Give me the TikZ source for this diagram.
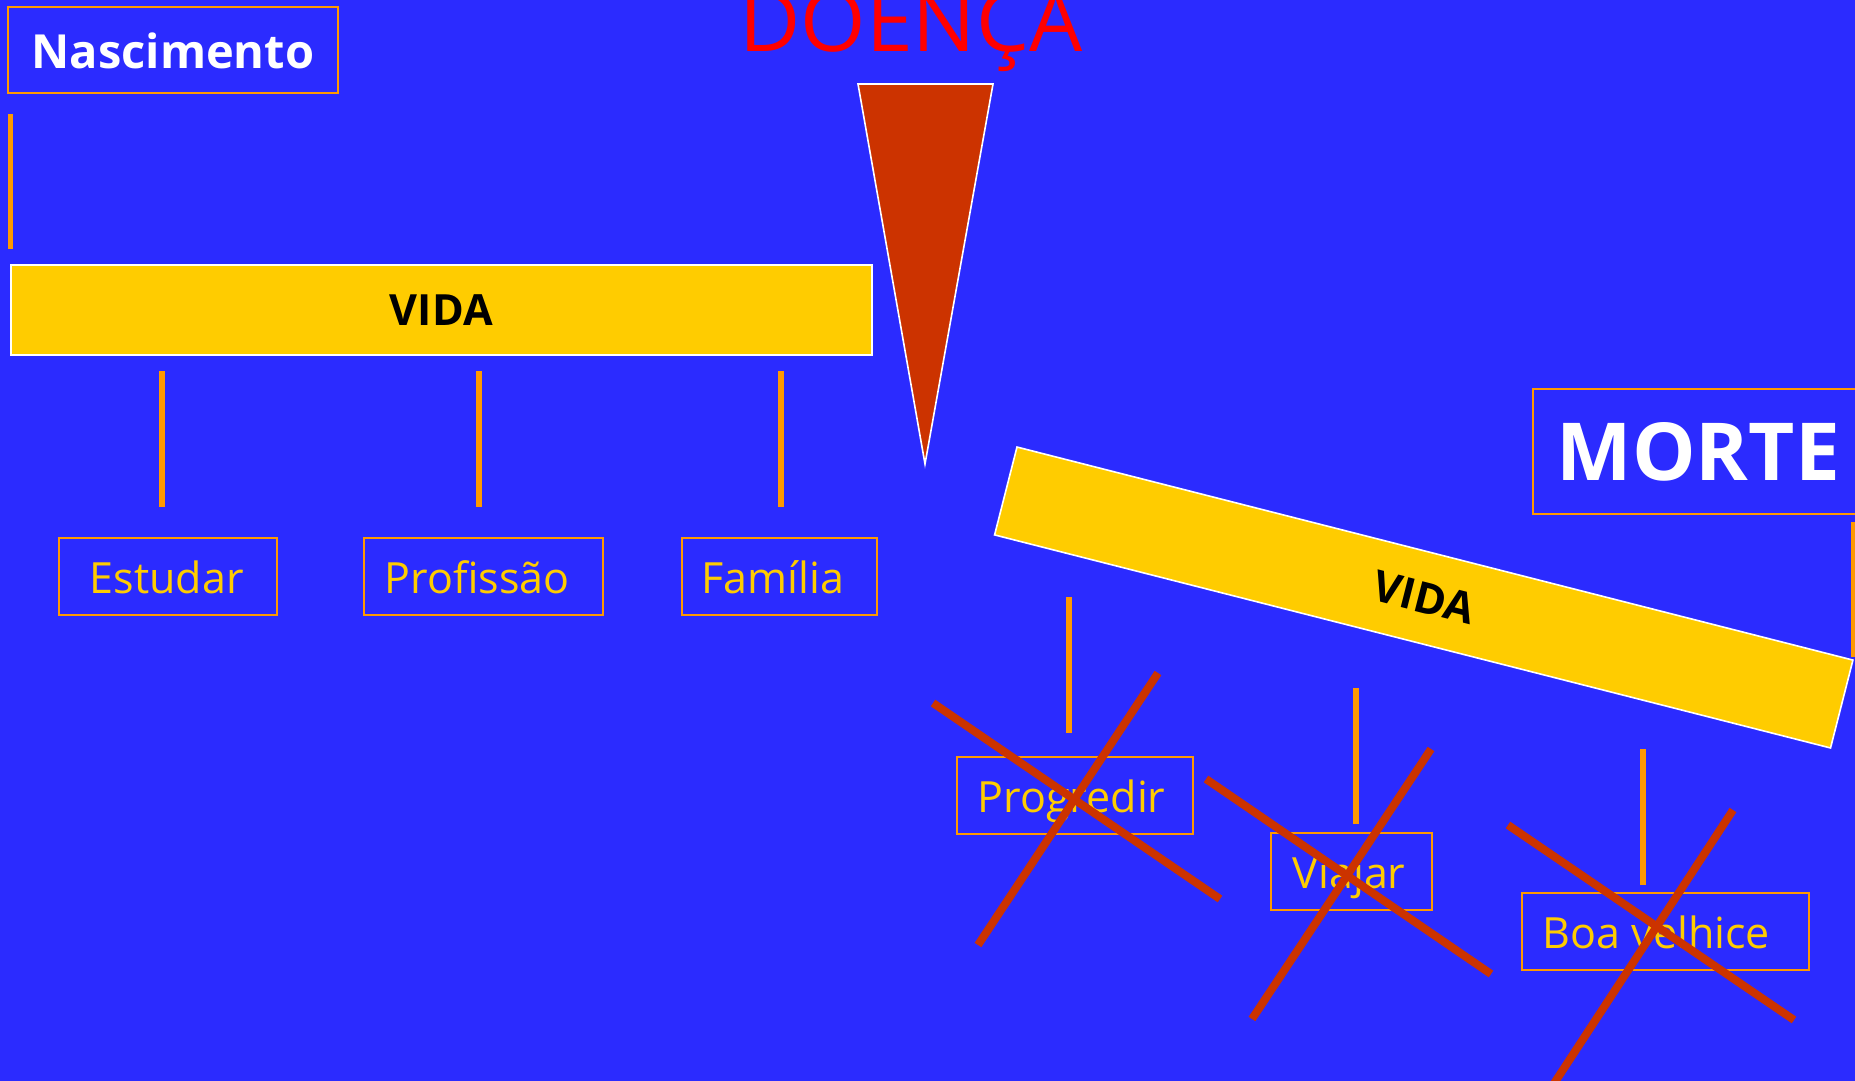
\documentclass[tikz,border=0pt]{standalone}
\usepackage{fontspec}
\setmainfont{Open Sans}
\definecolor{bgblue}{RGB}{43,43,255}
\definecolor{barYellow}{RGB}{255,204,0}
\definecolor{lineOrange}{RGB}{255,153,0}
\definecolor{rust}{RGB}{204,51,0}
\definecolor{alarmRed}{RGB}{255,0,0}
% left-aligned label of fixed width inside a box
\newcommand\lefttext[2]{\makebox[#1][l]{#2}}
\begin{document}
\begin{tikzpicture}[x=1pt,y=-1pt,
  lifebar/.style={draw=white, line width=1.6pt, fill=barYellow, text=black,
    font=\fontsize{43}{43}\selectfont\bfseries, inner sep=0pt},
  itembox/.style={draw=lineOrange, line width=1.5pt, text=barYellow,
    font=\fontsize{43}{43}\selectfont, anchor=north west, minimum height=77pt,
    inner ysep=0pt, text height=40pt, text depth=5pt},
  titlebox/.style={draw=lineOrange, line width=1.5pt, text=white, inner ysep=0pt},
  stem/.style={draw=lineOrange, line width=5.5pt},
  strike/.style={draw=rust, line width=8pt}
]
\useasboundingbox (0,0) rectangle (1855,1081);
\clip (0,0) rectangle (1855,1081);
\fill[bgblue] (0,0) rectangle (1855,1081);

% --- first half of life ---
\node[titlebox, font=\fontsize{47}{47}\selectfont\bfseries, minimum width=330pt,
  minimum height=86pt, text height=40pt, text depth=3pt] (birth) at (173,50) {Nascimento};
\coordinate (b1) at (10.5,114);
\coordinate (b2) at (10.5,249);
\draw[stem] (b1) -- (b2);

\node[lifebar, minimum width=861pt, minimum height=90pt] (life1) at (441.3,310) {VIDA};

\node[itembox, inner xsep=31pt] (study) at (58,537) {\lefttext{156pt}{Estudar}};
\node[itembox, inner xsep=21pt] (job) at (363,537) {\lefttext{197pt}{Profissão}};
\node[itembox, inner xsep=20pt] (family) at (681,537) {\lefttext{155pt}{Família}};

\coordinate (s1a) at (162,371);  \coordinate (s1b) at (162,507);
\coordinate (s2a) at (479,371);  \coordinate (s2b) at (479,507);
\coordinate (s3a) at (781,371);  \coordinate (s3b) at (781,507);
\draw[stem] (s1a) -- (s1b);
\draw[stem] (s2a) -- (s2b);
\draw[stem] (s3a) -- (s3b);

% --- illness ---
\node[text=alarmRed, font=\fontsize{84}{84}\selectfont, anchor=base, inner sep=0pt]
  (illness) at (911,52) {DOENÇA};
\draw[draw=white, line width=1.6pt, fill=rust] (858,84) -- (993,84) -- (925,464) -- cycle;

% --- second half of life ---
\node[lifebar, rotate=-14.3, minimum width=862.7pt, minimum height=90.7pt]
  (life2) at (1423.75,597.5) {VIDA};

\node[titlebox, font=\fontsize{80}{80}\selectfont\bfseries, anchor=north west,
  inner xsep=24pt, minimum height=125pt, text height=62pt, text depth=3pt]
  (death) at (1532,388) {\lefttext{292pt}{MORTE}};
\coordinate (d1) at (1854,522);
\coordinate (d2) at (1854,657);
\draw[stem] (d1) -- (d2);

\node[itembox, inner xsep=21pt] (progress) at (956,756) {\lefttext{194pt}{Progredir}};
\node[itembox, inner xsep=22pt] (travel) at (1270,832) {\lefttext{117pt}{Viajar}};
\node[itembox, inner xsep=21pt] (oldage) at (1521,892) {\lefttext{245pt}{Boa velhice}};

\coordinate (t1a) at (1069,597);  \coordinate (t1b) at (1069,733);
\coordinate (t2a) at (1356,688);  \coordinate (t2b) at (1356,824);
\coordinate (t3a) at (1643,749);  \coordinate (t3b) at (1643,885);
\draw[stem] (t1a) -- (t1b);
\draw[stem] (t2a) -- (t2b);
\draw[stem] (t3a) -- (t3b);

% crossed-out plans
\draw[strike] (933,703) -- (1220,899);
\draw[strike] (1158,673) -- (978,945);
\draw[strike] (1206,779) -- (1491,974);
\draw[strike] (1431,749) -- (1252,1019);
\draw[strike] (1508,825) -- (1794,1020);
\draw[strike] (1733,810) -- (1553,1085);
\end{tikzpicture}
\end{document}
